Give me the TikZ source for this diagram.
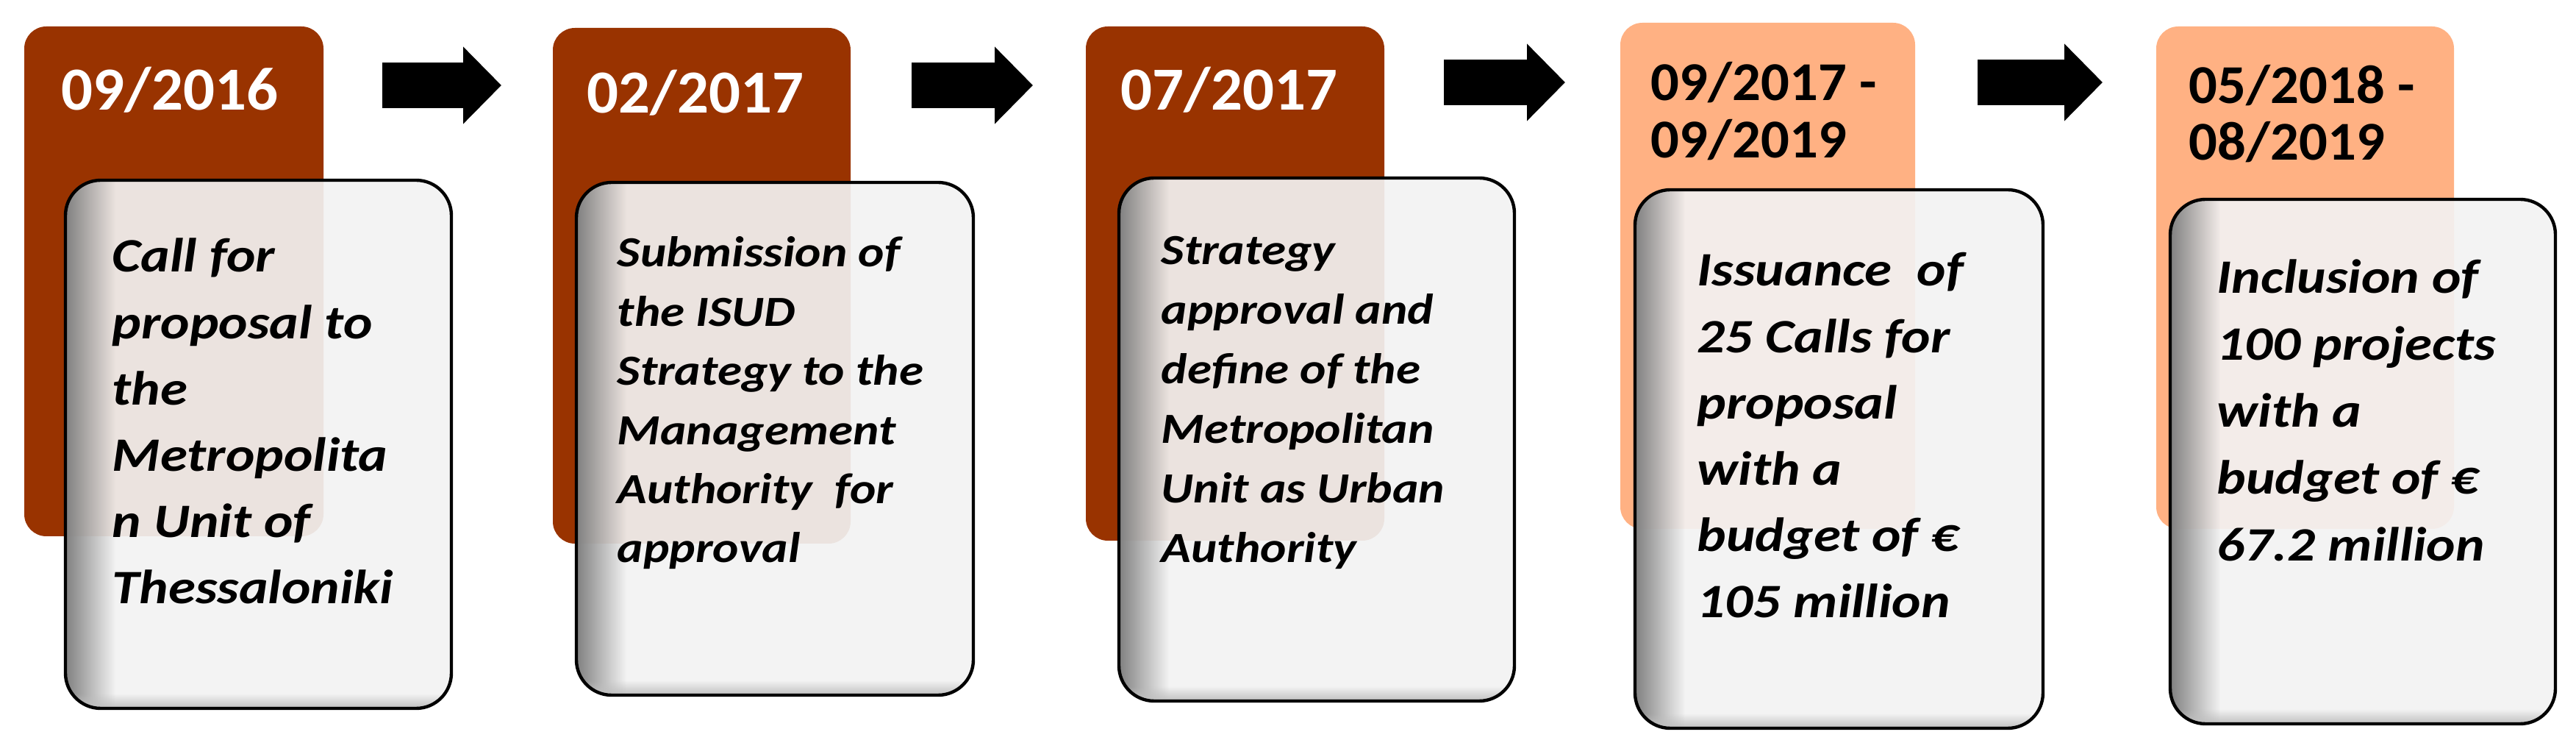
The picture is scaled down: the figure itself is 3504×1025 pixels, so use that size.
\documentclass[tikz,border=0pt]{standalone}
\usepackage{fontspec}
\usepackage{graphicx}
\setmainfont{Carlito}
\usetikzlibrary{arrows.meta,fadings}
\definecolor{darkbrn}{HTML}{993300}
\definecolor{lorange}{HTML}{FFB183}
\definecolor{cardfill}{HTML}{F2F2F2}
\newcommand\linestack[2]{\vtop{\baselineskip=#1\lineskiplimit=-100pt\lineskip=0pt\halign{##\hfil\cr#2\crcr}}}
\newcommand\sx[2]{\scalebox{#1}[1]{#2}}
\tikzset{
  datebox/.style={rounded corners=7.5pt, inner sep=0pt, outer sep=0pt, anchor=north west},
  card/.style={rounded corners=12pt, inner sep=0pt, outer sep=0pt, anchor=north west, fill=cardfill, fill opacity=0.92},
  cardline/.style={draw=black, line width=1.1pt, rounded corners=12pt},
  datetxt/.style={font=\fontsize{20.8}{25}\selectfont\bfseries, inner sep=0pt, anchor=base west},
  datetwo/.style={font=\fontsize{18.6}{20}\selectfont\bfseries, inner sep=0pt, anchor=base west},
  bodybig/.style={font=\fontsize{16.3}{22}\selectfont\bfseries\itshape, inner sep=0pt, anchor=base west},
  bodysmall/.style={font=\fontsize{14.6}{20}\selectfont\bfseries\itshape, inner sep=0pt, anchor=base west},
  blockarr/.style={line width=15.5pt, -{Triangle[length=13pt, width=25.5pt]}},
}
\begin{document}
\begin{tikzpicture}[x=0.25pt, y=-0.25pt]
\useasboundingbox (0,0) rectangle (3504,1025);
\fill[white] (0,0) rectangle (3504,1025);

% date boxes
\node[datebox, fill=darkbrn, minimum width=101.75pt, minimum height=173.25pt] (d1) at (33,36) {};
\node[datebox, fill=darkbrn, minimum width=101.25pt, minimum height=175.25pt] (d2) at (752,38) {};
\node[datebox, fill=darkbrn, minimum width=101.5pt, minimum height=174.75pt] (d3) at (1477,36) {};
\node[datebox, fill=lorange, minimum width=100.25pt, minimum height=172pt] (d4) at (2204,31) {};
\node[datebox, fill=lorange, minimum width=101.25pt, minimum height=170.75pt] (d5) at (2933,36) {};

% dates
\node[datetxt, text=white] (dt1) at (83,150) {\sx{1.02}{09/2016}};
\node[datetxt, text=white] (dt2) at (798,154) {\sx{1.02}{02/2017}};
\node[datetxt, text=white] (dt3) at (1524,150) {\sx{1.02}{07/2017}};
\node[datetwo, text=black] (dt4) at (2245,137) {\sx{1.03}{\linestack{19.5pt}{09/2017 -\cr 09/2019}}};
\node[datetwo, text=black] (dt5) at (2977,141) {\sx{1.03}{\linestack{19.2pt}{05/2018 -\cr 08/2019}}};

% arrows
\coordinate (a1s) at (520,116); \coordinate (a1e) at (682,116);
\coordinate (a2s) at (1240,116); \coordinate (a2e) at (1405,116);
\coordinate (a3s) at (1964,112); \coordinate (a3e) at (2129,112);
\coordinate (a4s) at (2690,112); \coordinate (a4e) at (2860,112);
\draw[blockarr] (a1s) -- (a1e);
\draw[blockarr] (a2s) -- (a2e);
\draw[blockarr] (a3s) -- (a3e);
\draw[blockarr] (a4s) -- (a4e);

% cards
\node[card, minimum width=131.25pt, minimum height=179.5pt] (l1) at (89,245) {};
\node[card, minimum width=135pt, minimum height=174.25pt] (l2) at (784,248) {};
\node[card, minimum width=134.5pt, minimum height=177.75pt] (l3) at (1522,242) {};
\node[card, minimum width=138.75pt, minimum height=183pt] (l4) at (2224,258) {};
\node[card, minimum width=131pt, minimum height=178.25pt] (l5) at (2952,271) {};
\foreach \c in {l1,l2,l3,l4,l5}{
  \begin{scope}
    \clip[rounded corners=12pt] (\c.north west) rectangle (\c.south east);
    \fill[black!50, path fading=east] (\c.north west) rectangle ([xshift=17pt]\c.south west);
    \fill[black!25, path fading=north] ([yshift=5pt]\c.south west) rectangle (\c.south east);
  \end{scope}
  \draw[cardline] (\c.north west) rectangle (\c.south east);
}

% texts
\node[bodybig] (t1) at (152,370) {\sx{1.15}{\linestack{22.55pt}{Call for\cr proposal to\cr the\cr Metropolita\cr n Unit of\cr Thessaloniki}}};
\node[bodysmall] (t2) at (839,363) {\sx{1.15}{\linestack{20.1pt}{Submission of\cr the ISUD\cr Strategy to the\cr Management\cr Authority\ \ for\cr approval}}};
\node[bodysmall] (t3) at (1579,360) {\sx{1.15}{\linestack{20.25pt}{Strategy\cr approval and\cr define of the\cr Metropolitan\cr Unit as Urban\cr Authority}}};
\node[bodybig] (t4) at (2308,389) {\sx{1.15}{\linestack{22.55pt}{Issuance\ \ of\cr 25 Calls for\cr proposal\cr with a\cr budget of €\cr 105 million}}};
\node[bodybig] (t5) at (3015,399) {\sx{1.15}{\linestack{22.7pt}{Inclusion of\cr 100 projects\cr with a\cr budget of €\cr 67.2 million}}};
\end{tikzpicture}
\end{document}
